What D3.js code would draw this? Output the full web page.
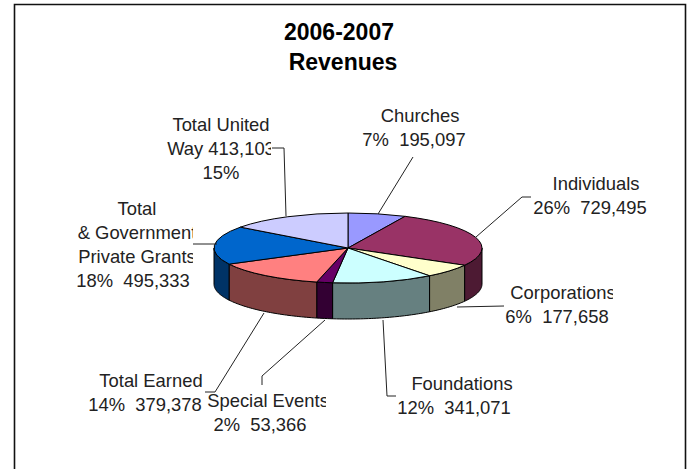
<!DOCTYPE html>
<html>
<head>
<meta charset="utf-8">
<script src="https://cdn.jsdelivr.net/npm/d3@7"></script>
<style>
  html, body { margin: 0; padding: 0; background: #fff; }
  svg { display: block; }
  text { font-family: "Liberation Sans", Arial, sans-serif; fill: #222; }
</style>
</head>
<body>
<svg id="chart" width="691" height="469"></svg>
<script>
const titleLines = ['2006-2007', 'Revenues'];
const categories = ['Churches', 'Individuals', 'Corporations', 'Foundations', 'Special Events', 'Total Earned', 'Private Grants', 'Total United Way'];
const values = [195097, 729495, 177658, 341071, 53366, 379378, 495333, 413103];
const colors = ['#9999ff', '#993366', '#ffffcc', '#ccffff', '#660066', '#ff8080', '#0066cc', '#ccccff'];
// {v} = value, {p} = percent
const labelLines = [
  ['Churches', '{p}  {v}'],
  ['Individuals', '{p}  {v}'],
  ['Corporations', '{p}  {v}'],
  ['Foundations', '{p}  {v}'],
  ['Special Events', '{p}  {v}'],
  ['Total Earned', '{p}  {v}'],
  ['Total', '& Government', 'Private Grants', '{p}  {v}'],
  ['Total United', 'Way {v}', '{p}'],
];

// label layout: line centres, first baseline, right clip edge
const labelLayout = [
  { cx: [420, 414], y: 122, clip: 480 },
  { cx: [596, 590], y: 190, clip: 660 },
  { cx: [563, 557], y: 299, clip: 613 },
  { cx: [462, 454], y: 390, clip: 520 },
  { cx: [268, 260], y: 407, clip: 326 },
  { cx: [151, 145], y: 387, clip: 206 },
  { cx: [137, 137, 137, 133], y: 215, clip: 193 },
  { cx: [221, 221, 221], y: 131, clip: 271 },
];
// leader polylines, first point sits on the pie
const leaders = [
  [[378, 214], [413, 157]],
  [[476, 237], [522, 197], [531, 197]],
  [[457, 307], [504, 306]],
  [[383, 320], [387, 396], [396, 396]],
  [[325, 320], [262, 376], [262, 385]],
  [[264, 313], [215, 392], [205, 392]],
  [[217, 244], [193, 244]],
  [[286, 216], [284, 148], [272, 148]],
];

const cx = 348;
const cy = 248;
const rx = 134;
const ry = 35;
const depth = 36;

const svg = d3.select('#chart');

// frame, no bottom edge
svg.append('path')
  .attr('d', 'M14.5,469V4.5H685.5V469')
  .attr('fill', 'none')
  .attr('stroke', '#111')
  .attr('stroke-width', 1.6);

svg.selectAll('.title')
  .data(titleLines)
  .enter()
  .append('text')
  .classed('title', true)
  .text((d) => d)
  .attr('x', (d, i) => 339 + i * 4)
  .attr('y', (d, i) => 40 + i * 30)
  .attr('text-anchor', 'middle')
  .attr('font-size', 23)
  .attr('font-weight', 'bold')
  .style('fill', '#000');

const total = d3.sum(values);
const pie = d3.pie().sort(null).value((d) => d);
const slices = pie(values);

const px = (a) => cx + rx * Math.sin(a);
const py = (a) => cy - ry * Math.cos(a);
const line = d3.line();

// the wall is only visible on the front half
const wallData = slices
  .map((s, i) => ({
    i,
    a0: Math.max(s.startAngle, Math.PI / 2),
    a1: Math.min(s.endAngle, (3 * Math.PI) / 2),
  }))
  .filter((d) => d.a1 > d.a0);

const darken = (c) => {
  const rgb = d3.rgb(c);
  return d3.rgb(rgb.r * 0.5, rgb.g * 0.5, rgb.b * 0.5).formatHex();
};

svg.selectAll('.wall')
  .data(wallData)
  .enter()
  .append('path')
  .classed('wall', true)
  .attr('d', (d) => {
    const angles = d3.range(d.a0, d.a1, 0.02).concat(d.a1);
    const top = angles.map((a) => [px(a), py(a)]);
    const bottom = angles.slice().reverse().map((a) => [px(a), py(a) + depth]);
    return line(top.concat(bottom)) + 'Z';
  })
  .attr('fill', (d) => darken(colors[d.i]))
  .attr('stroke', '#000')
  .attr('stroke-width', 1);

const arc = d3.arc().innerRadius(0).outerRadius(rx);

svg.append('g')
  .attr('transform', `translate(${cx},${cy}) scale(1,${ry / rx})`)
  .selectAll('.slice')
  .data(slices)
  .enter()
  .append('path')
  .classed('slice', true)
  .attr('d', arc)
  .attr('fill', (d, i) => colors[i])
  .attr('stroke', '#000')
  .attr('stroke-width', 1)
  .attr('vector-effect', 'non-scaling-stroke');

svg.selectAll('.leader')
  .data(leaders)
  .enter()
  .append('path')
  .classed('leader', true)
  .attr('d', (d) => line(d))
  .attr('fill', 'none')
  .attr('stroke', '#222')
  .attr('stroke-width', 1);

const fmt = d3.format(',');
const labelText = (tpl, i) =>
  tpl
    .replace('{v}', fmt(values[i]))
    .replace('{p}', Math.round((values[i] / total) * 100) + '%');

svg.append('defs')
  .selectAll('clipPath')
  .data(labelLayout)
  .enter()
  .append('clipPath')
  .attr('id', (d, i) => 'label-clip-' + i)
  .append('rect')
  .attr('x', 0)
  .attr('y', 0)
  .attr('width', (d) => d.clip)
  .attr('height', 469);

const labels = svg.selectAll('.label')
  .data(labelLines)
  .enter()
  .append('g')
  .classed('label', true)
  .attr('clip-path', (d, i) => `url(#label-clip-${i})`);

labels.each(function (lines, i) {
  const layout = labelLayout[i];
  d3.select(this)
    .selectAll('text')
    .data(lines)
    .enter()
    .append('text')
    .text((d) => labelText(d, i))
    .attr('x', (d, j) => layout.cx[j])
    .attr('y', (d, j) => layout.y + j * 24)
    .attr('text-anchor', 'middle')
    .attr('font-size', 18.4)
    .attr('xml:space', 'preserve')
    .style('white-space', 'pre');
});
</script>
</body>
</html>
